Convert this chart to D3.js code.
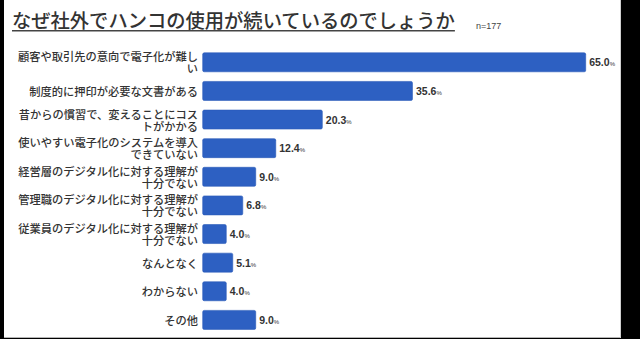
<!DOCTYPE html>
<html><head><meta charset="utf-8">
<script src="https://cdn.jsdelivr.net/npm/d3@7"></script>
<style>
html,body{margin:0;padding:0;background:#000;}
svg{display:block;}
</style></head>
<body>
<svg id="c" width="640" height="339"></svg>
<script>
const title = "なぜ社外でハンコの使用が続いているのでしょうか";
const sampleNote = "n=177";
const categories = [
  "顧客や取引先の意向で電子化が難しい",
  "制度的に押印が必要な文書がある",
  "昔からの慣習で、変えることにコストがかかる",
  "使いやすい電子化のシステムを導入できていない",
  "経営層のデジタル化に対する理解が十分でない",
  "管理職のデジタル化に対する理解が十分でない",
  "従業員のデジタル化に対する理解が十分でない",
  "なんとなく",
  "わからない",
  "その他"
];
const values = [65.0, 35.6, 20.3, 12.4, 9.0, 6.8, 4.0, 5.1, 4.0, 9.0];
const unit = "%";

const svg = d3.select("#c");
const JP = "'Noto Sans CJK JP','Noto Sans',sans-serif";
const NUM = "'Liberation Sans',Arial,sans-serif";

// background panel
svg.append("rect").attr("x",4).attr("y",0).attr("width",617).attr("height",338)
  .attr("fill","#fff");
svg.append("line").attr("x1",4).attr("x2",621).attr("y1",337.5).attr("y2",337.5)
  .attr("stroke","#b5b5b5").attr("stroke-width",1);
svg.append("line").attr("x1",620.5).attr("x2",620.5).attr("y1",0).attr("y2",338)
  .attr("stroke","#d0d0d0").attr("stroke-width",1);

// title
const t = svg.append("text").attr("x",12).attr("y",27.5)
  .attr("font-family",JP).attr("font-size",19.3).attr("font-weight",500)
  .attr("fill","#333").text(title);
const tw = t.node().getComputedTextLength();
svg.append("line").attr("x1",12).attr("x2",12+tw).attr("y1",30.8).attr("y2",30.8)
  .attr("stroke","#444").attr("stroke-width",1.5);
svg.append("text").attr("x",476).attr("y",28.5)
  .attr("font-family",NUM).attr("font-size",9).attr("fill","#444").text(sampleNote);

// scales
const x = d3.scaleLinear().domain([0,65]).range([202.7,585.7]);
const y = d3.scaleBand().domain(categories).range([48,334.2])
  .paddingInner(0.336).paddingOuter(0.168);

// bars
svg.append("g").selectAll("rect").data(values).join("rect")
  .attr("x",x(0))
  .attr("y",(d,i)=>y(categories[i]))
  .attr("width",d=>x(d)-x(0))
  .attr("height",y.bandwidth())
  .attr("rx",1.5)
  .attr("fill","#2d60c2")
  .attr("stroke","#2a5ab8").attr("stroke-width",0.6);

// category labels with wrapping
const maxW = 183, lineH = 12, fs = 11.25;
const lg = svg.append("g");
categories.forEach((c)=>{
  const cy = y(c) + y.bandwidth()/2;
  const txt = lg.append("text").attr("text-anchor","end").attr("x",198)
    .attr("font-family",JP).attr("font-size",fs).attr("font-weight",500)
    .attr("fill","#333");
  const probe = txt.append("tspan");
  const lines = [];
  let cur = "";
  for (const ch of c) {
    probe.text(cur+ch);
    if (probe.node().getComputedTextLength() > maxW && cur.length) {
      lines.push(cur); cur = ch;
    } else cur += ch;
  }
  lines.push(cur);
  probe.remove();
  const y0 = cy - (lines.length-1)*lineH/2;
  lines.forEach((ln,k)=>{
    txt.append("tspan").attr("x",198).attr("y",y0+k*lineH)
      .attr("dominant-baseline","central").text(ln);
  });
});

// value labels
const vg = svg.append("g");
values.forEach((v,i)=>{
  const tx = vg.append("text").attr("x",x(v)+3.5)
    .attr("y",y(categories[i])+y.bandwidth()/2+4)
    .attr("font-family",NUM).attr("font-weight","bold").attr("font-size",10.5)
    .attr("fill","#333");
  tx.append("tspan").text(d3.format(".1f")(v));
  tx.append("tspan").attr("font-size",6).attr("font-weight","normal").text(unit);
});
</script>
</body></html>
